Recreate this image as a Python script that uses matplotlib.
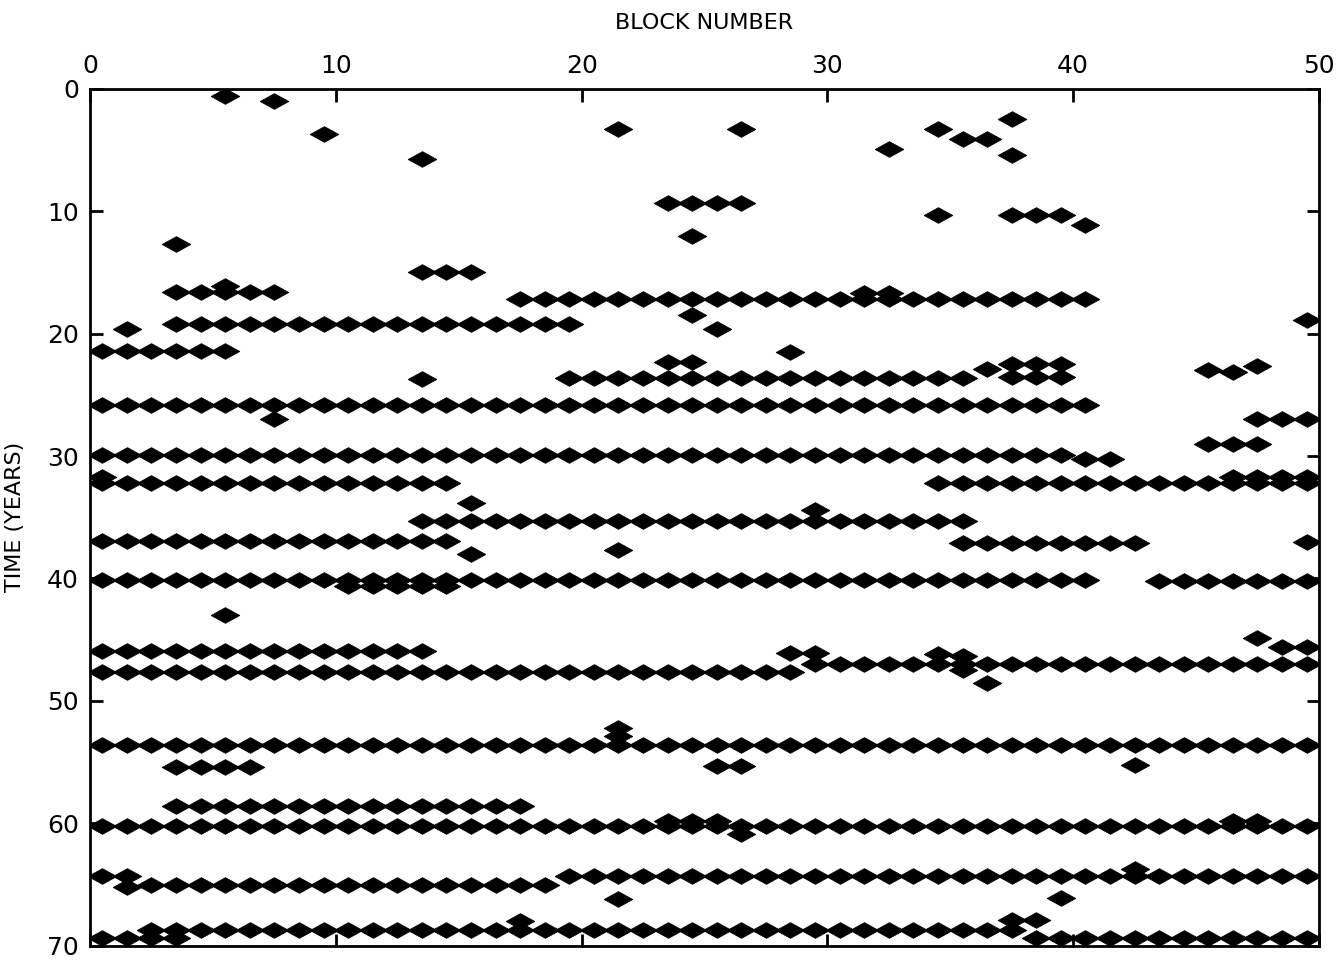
import numpy as np
import matplotlib
matplotlib.use('Agg')
import matplotlib.pyplot as plt
from matplotlib.path import Path

# horizontal runs of diamonds: time (years), first and last block centre
run_time = [9.3, 10.3, 15.0, 16.6, 17.2, 19.2, 21.4, 22.3, 23.6, 25.8,
            27.0, 29.0, 29.9, 30.2, 32.2, 32.2, 31.7, 35.3, 36.9, 37.1,
            40.1, 40.2, 40.6, 45.9, 47.6, 47.0, 46.1, 45.6, 53.6, 55.4,
            55.3, 58.6, 60.2, 59.8, 59.8, 64.3, 65.0, 64.3, 68.7, 67.9,
            69.4, 69.4, 23.5, 22.5]
run_first = [23.5, 37.5, 13.5, 3.5, 17.5, 3.5, 0.5, 23.5, 19.5, 0.5,
             47.5, 45.5, 0.5, 40.5, 0.5, 34.5, 46.5, 13.5, 0.5, 35.5,
             0.5, 43.5, 10.5, 0.5, 0.5, 29.5, 28.5, 48.5, 0.5, 3.5,
             25.5, 3.5, 0.5, 23.5, 46.5, 0.5, 2.5, 19.5, 2.5, 37.5,
             38.5, 0.5, 37.5, 37.5]
run_last = [26.5, 39.5, 15.5, 7.5, 40.5, 19.5, 5.5, 24.5, 35.5, 40.5,
            49.5, 47.5, 39.5, 41.5, 14.5, 49.5, 49.5, 35.5, 14.5, 42.5,
            40.5, 49.5, 14.5, 13.5, 28.5, 49.5, 29.5, 49.5, 49.5, 6.5,
            26.5, 17.5, 49.5, 25.5, 47.5, 1.5, 18.5, 49.5, 37.5, 38.5,
            49.5, 3.5, 39.5, 39.5]

# isolated diamonds
single_block = [5.5, 7.5, 9.5, 13.5, 3.5, 21.5, 26.5, 32.5, 34.5, 35.5,
                36.5, 37.5, 37.5, 24.5, 34.5, 40.5, 5.5, 31.5, 32.5, 24.5,
                25.5, 1.5, 49.5, 28.5, 13.5, 36.5, 45.5, 46.5, 47.5, 7.5,
                0.5, 15.5, 29.5, 15.5, 21.5, 49.5, 5.5, 47.5, 34.5, 35.5,
                35.5, 36.5, 21.5, 21.5, 42.5, 26.5, 1.5, 21.5, 42.5, 39.5,
                17.5]
single_time = [0.6, 1.0, 3.7, 5.7, 12.7, 3.3, 3.3, 4.9, 3.3, 4.1,
               4.1, 2.5, 5.4, 12.0, 10.3, 11.1, 16.1, 16.7, 16.7, 18.5,
               19.6, 19.6, 18.9, 21.5, 23.7, 22.9, 23.0, 23.1, 22.6, 27.0,
               31.7, 33.8, 34.4, 38.0, 37.7, 37.0, 43.0, 44.9, 46.2, 46.3,
               47.5, 48.5, 52.2, 52.9, 55.2, 60.9, 65.2, 66.2, 63.7, 66.1,
               68.0]

xs, ys = [], []
for t, a, b in zip(run_time, run_first, run_last):
    blocks = np.arange(a, b + 0.01, 1.0)
    xs.extend(blocks)
    ys.extend([t] * len(blocks))
xs.extend(single_block)
ys.extend(single_time)

diamond = Path([(-1, 0), (0, 0.55), (1, 0), (0, -0.55), (-1, 0)],
               [Path.MOVETO, Path.LINETO, Path.LINETO, Path.LINETO, Path.CLOSEPOLY])

plt.rcParams['font.family'] = ['DejaVu Sans']
fig = plt.figure(figsize=(13.36, 9.66), dpi=100)
ax = fig.add_axes([0.0674, 0.021, 0.9198, 0.887])

ax.plot(xs, ys, linestyle='none', marker=diamond, markersize=20.5,
        color='black', markeredgewidth=0.6)

ax.set_xlim(0, 50)
ax.set_ylim(70, 0)
ax.set_xticks(np.arange(0, 51, 10))
ax.set_yticks(np.arange(0, 71, 10))
ax.xaxis.set_ticks_position('both')
ax.yaxis.set_ticks_position('both')
ax.tick_params(direction='in', length=9, width=2, labelsize=18,
               labeltop=True, labelbottom=False, labelleft=True, labelright=False,
               pad=8)
for s in ax.spines.values():
    s.set_linewidth(2)

ax.xaxis.set_label_position('top')
ax.set_xlabel('BLOCK NUMBER', fontsize=16, labelpad=18)
ax.set_ylabel('TIME (YEARS)', fontsize=16, labelpad=16)

plt.savefig('out.png', dpi=100)
plt.close()
